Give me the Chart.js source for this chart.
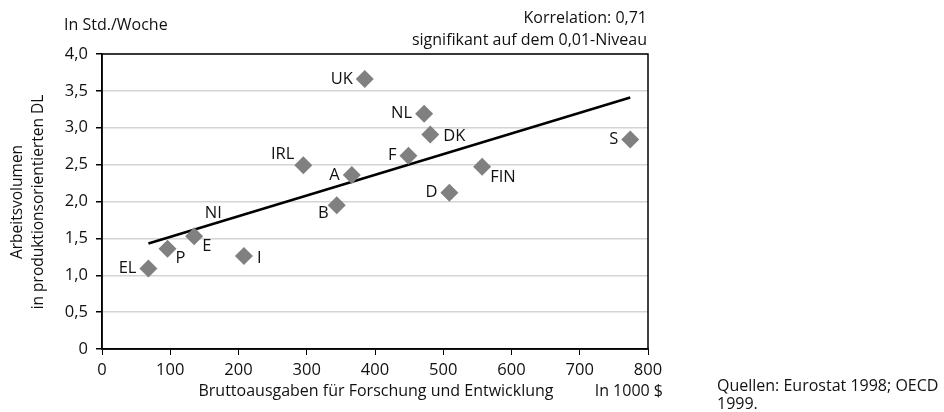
<!DOCTYPE html>
<html>
<head>
<meta charset="utf-8">
<script src="https://cdn.jsdelivr.net/npm/chart.js@4/dist/chart.umd.min.js"></script>
<style>
  html, body { margin: 0; padding: 0; background: #fff; }
  #wrap { position: relative; width: 944px; height: 412px; }
</style>
</head>
<body>
<div id="wrap"><canvas id="scatter"></canvas></div>
<script>
// Countries, R&D expenditure (1000 $) and work volume (hours/week)
var countries = ['UK', 'NL', 'DK', 'F', 'IRL', 'A', 'D', 'B', 'FIN', 'S', 'EL', 'P', 'E', 'I', 'NI'];
var rdSpending = [385, 472, 481, 449, 295, 366, 509, 344, 557, 774, 68, 96, 135, 208, 163];
var workVolume = [3.66, 3.19, 2.91, 2.62, 2.49, 2.36, 2.12, 1.95, 2.47, 2.84, 1.09, 1.36, 1.53, 1.26, 1.84];

// regression line end points
var trendX = [68, 774];
var trendY = [1.43, 3.41];

var xTicks = [0, 100, 200, 300, 400, 500, 600, 700, 800];
var yTickLabels = ['0', '0,5', '1,0', '1,5', '2,0', '2,5', '3,0', '3,5', '4,0'];

(function () {
    'use strict';

    var FONT = '"Open Sans", "Noto Sans", sans-serif';

    // where each label sits relative to its marker
    var labelSide = {
        UK: 'l', NL: 'l', DK: 'r', F: 'l', IRL: 'lu', A: 'l', D: 'l', B: 'ld',
        FIN: 'rd', S: 'l', EL: 'l', P: 'rd', E: 'rd', I: 'r', NI: 'c'
    };

    var pointData = rdSpending.map(function (x, i) { return { x: x, y: workVolume[i] }; });
    var trendData = trendX.map(function (x, i) { return { x: x, y: trendY[i] }; });

    var labelsPlugin = {
        id: 'pointLabels',
        afterDatasetsDraw: function (chart) {
            var ctx = chart.ctx;
            var meta = chart.getDatasetMeta(1);
            ctx.save();
            ctx.fillStyle = '#111';
            ctx.font = '16.5px ' + FONT;
            ctx.textBaseline = 'middle';
            meta.data.forEach(function (pt, i) {
                var name = countries[i];
                var side = labelSide[name] || 'l';
                var x = pt.x, y = pt.y;
                if (side === 'l') { ctx.textAlign = 'right'; x -= 12; }
                else if (side === 'r') { ctx.textAlign = 'left'; x += 13; y += 2; }
                else if (side === 'rd') { ctx.textAlign = 'left'; x += 8; y += 10; }
                else if (side === 'lu') { ctx.textAlign = 'right'; x -= 9; y -= 11; }
                else if (side === 'ld') { ctx.textAlign = 'right'; x -= 8; y += 8; }
                else { ctx.textAlign = 'center'; }
                ctx.fillText(name, x, y);
            });
            ctx.restore();
        }
    };

    var framePlugin = {
        id: 'frame',
        afterDraw: function (chart) {
            var ctx = chart.ctx;
            var a = chart.chartArea;
            ctx.save();
            ctx.strokeStyle = '#000';
            ctx.lineWidth = 1.5;
            ctx.strokeRect(a.left, a.top, a.right - a.left, a.bottom - a.top);

            ctx.fillStyle = '#111';
            ctx.font = '16px ' + FONT;
            ctx.textBaseline = 'middle';
            ctx.textAlign = 'left';
            ctx.fillText('In Std./Woche', 64, 25);
            ctx.textAlign = 'right';
            ctx.fillText('Korrelation: 0,71', 647, 18);
            ctx.fillText('signifikant auf dem 0,01-Niveau', 647, 40);

            ctx.textAlign = 'center';
            ctx.fillText('Bruttoausgaben für Forschung und Entwicklung', 376, 391);
            ctx.textAlign = 'right';
            ctx.fillText('In 1000 $', 663, 391);
            ctx.textAlign = 'left';
            ctx.fillText('Quellen: Eurostat 1998; OECD', 717, 386);
            ctx.fillText('1999.', 717, 404);

            ctx.save();
            ctx.font = '15.5px ' + FONT;
            ctx.translate(18, 202);
            ctx.rotate(-Math.PI / 2);
            ctx.textAlign = 'center';
            ctx.fillText('Arbeitsvolumen', 0, 0);
            ctx.fillText('in produktionsorientierten DL', 0, 21);
            ctx.restore();
            ctx.restore();
        }
    };

    new Chart(document.getElementById('scatter'), {
        type: 'scatter',
        data: {
            datasets: [{
                type: 'line',
                data: trendData,
                borderColor: '#000',
                borderWidth: 2.5,
                pointRadius: 0,
                fill: false,
                order: 2
            }, {
                data: pointData,
                pointStyle: 'rectRot',
                pointRadius: countries.map(function (c) { return c === 'NI' ? 0 : 9; }),
                pointHoverRadius: 9,
                backgroundColor: '#808080',
                borderColor: '#808080',
                borderWidth: 0,
                order: 1
            }]
        },
        options: {
            responsive: true,
            maintainAspectRatio: false,
            animation: false,
            layout: { padding: { left: 0, top: 54, right: 296, bottom: 0 } },
            plugins: { legend: { display: false }, tooltip: { enabled: false } },
            scales: {
                x: {
                    type: 'linear',
                    min: 0,
                    max: 800,
                    afterBuildTicks: function (axis) {
                        axis.ticks = xTicks.map(function (v) { return { value: v }; });
                    },
                    afterFit: function (axis) { axis.height = 63; },
                    grid: {
                        drawOnChartArea: false,
                        drawTicks: true,
                        tickLength: 6,
                        color: '#000',
                        tickColor: '#000'
                    },
                    border: { color: '#000', width: 1.5 },
                    ticks: {
                        color: '#111',
                        padding: 5,
                        maxRotation: 0,
                        font: { family: FONT, size: 16.5 }
                    }
                },
                y: {
                    min: 0,
                    max: 4,
                    afterBuildTicks: function (axis) {
                        axis.ticks = yTickLabels.map(function (t, i) { return { value: i * 0.5 }; });
                    },
                    afterFit: function (axis) { axis.width = 102; },
                    grid: {
                        color: '#d4d4d4',
                        lineWidth: 1.5,
                        tickColor: '#000',
                        tickLength: 6
                    },
                    border: { color: '#000', width: 1.5 },
                    ticks: {
                        color: '#111',
                        padding: 8,
                        font: { family: FONT, size: 16.5 },
                        callback: function (v) { return yTickLabels[Math.round(v / 0.5)]; }
                    }
                }
            }
        },
        plugins: [labelsPlugin, framePlugin]
    });
}());
</script>
</body>
</html>
